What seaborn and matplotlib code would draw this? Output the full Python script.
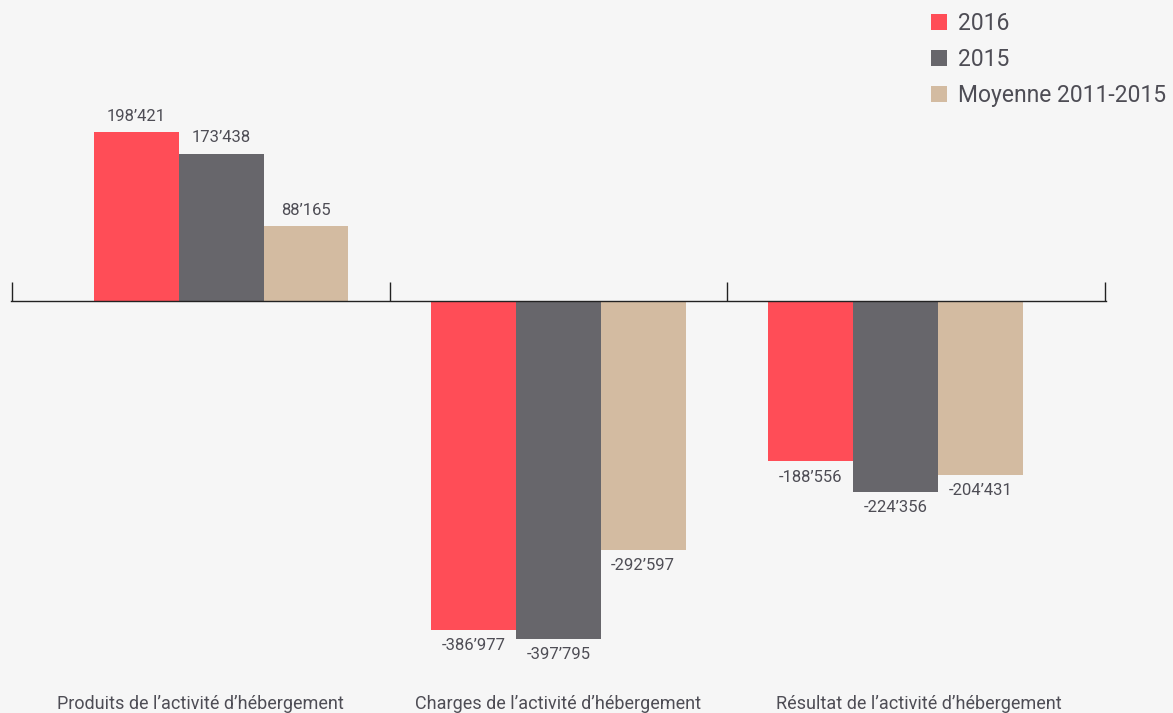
import pandas as pd
import seaborn as sns
import matplotlib.pyplot as plt
from matplotlib.lines import Line2D

categories = ["Produits de l’activité d’hébergement",
              "Charges de l’activité d’hébergement",
              "Résultat de l’activité d’hébergement"]
series = ["2016", "2015", "Moyenne 2011-2015"]
v2016 = [198421, -386977, -188556]
v2015 = [173438, -397795, -224356]
vmoy = [88165, -292597, -204431]
colors = ["#FF4D57", "#67666B", "#D3BBA1"]

df = pd.DataFrame({
    "cat": categories * 3,
    "serie": [s for s in series for _ in categories],
    "val": v2016 + v2015 + vmoy,
})

sns.set_style("white")
plt.rcParams["font.family"] = ["Roboto", "DejaVu Sans"]
txt = "#4E4D55"

fig = plt.figure(figsize=(11.73, 7.13), dpi=100, facecolor="#F6F6F6")
ax = fig.add_axes([11 / 1173, 0, (1106 - 11) / 1173, 1])
ax.set_facecolor("#F6F6F6")

sns.barplot(data=df, x="cat", y="val", hue="serie", palette=colors,
            width=0.755, linewidth=0, saturation=1, ax=ax, legend=False)

for cont in ax.containers:
    labs = [f"{int(b.get_height()):,}".replace(",", "’") for b in cont]
    ax.bar_label(cont, labels=labs, padding=6, fontsize=12, color=txt)

ax.set_xlim(-0.623, 2.624)
ax.set_ylim(-484700, 354100)
for s in ["top", "left", "right"]:
    ax.spines[s].set_visible(False)
ax.spines["bottom"].set_position(("data", 0))
ax.spines["bottom"].set_color("#222222")
ax.spines["bottom"].set_linewidth(1)
ax.set_xticks([-0.621, 0.5, 1.5, 2.622])
ax.set_xticklabels([])
ax.tick_params(axis="x", bottom=True, direction="in", length=14, width=1,
               color="#222222")
ax.set_yticks([])
ax.set_xlabel("")
ax.set_ylabel("")

label_x = [-0.06, 1.0, 2.07]
for x, c in zip(label_x, categories):
    ax.text(x, 0.013, c, transform=ax.get_xaxis_transform(), ha="center",
            va="center", fontsize=13, color=txt)

handles = [Line2D([], [], marker="s", linestyle="", markersize=12,
                  markerfacecolor=c, markeredgewidth=0) for c in colors]
fig.legend(handles, series, loc="upper left", bbox_to_anchor=(912 / 1173, 1.003),
           frameon=False, fontsize=16.5, labelcolor=txt, handletextpad=0.2,
           handlelength=1.2, labelspacing=0.58, borderaxespad=0.2)

fig.savefig("out.png", dpi=100, facecolor=fig.get_facecolor())
